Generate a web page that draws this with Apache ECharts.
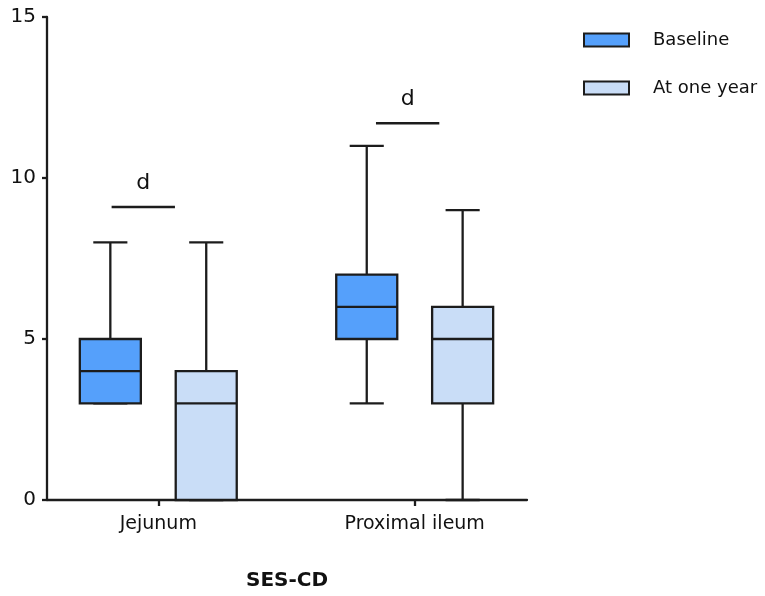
<!DOCTYPE html>
<html>
<head>
<meta charset="utf-8">
<script src="https://cdn.jsdelivr.net/npm/echarts@6/dist/echarts.min.js"></script>
<style>
  html, body { margin: 0; padding: 0; background: #fff; }
  #chart { width: 765px; height: 596px; }
</style>
</head>
<body>
<div id="chart"></div>
<script>
// ---- data ----
const categories = ['Jejunum', 'Proximal ileum'];
const seriesNames = ['Baseline', 'At one year'];
// [min, Q1, median, Q3, max] per category
const baselineStats = [[3, 3, 4, 5, 8], [3, 5, 6, 7, 11]];
const oneYearStats = [[0, 0, 3, 4, 8], [0, 3, 5, 6, 9]];
const yTicks = [0, 5, 10, 15];
// significance annotations (x in category units, y in SES-CD units)
const sigStart = [-0.182, 0.849];
const sigEnd = [0.065, 1.096];
const sigHeight = [9.1, 11.7];
const sigText = ['d', 'd'];

// ---- styles / layout ----
const FONT = 'DejaVu Sans';
const INK = '#1c1c1c';
const LW = 2.3;
const colors = ['#55a0fb', '#c9ddf7'];
const BOX_OFFSET = 0.187;   // fraction of category spacing
const BOX_W = 0.238;
const CAP_W = 0.133;

function rowsFrom(stats) {
  return stats.map((s, i) => [i].concat(s));
}

function boxRenderer(offsetFrac, fill) {
  return function (params, api) {
    const x = api.value(0);
    const unit = api.size([1, 0])[0];
    const cx = api.coord([x, 0])[0] + offsetFrac * unit;
    const half = BOX_W * unit / 2;
    const capHalf = CAP_W * unit / 2;
    const y = v => api.coord([x, v])[1];
    const mn = y(api.value(1)), q1 = y(api.value(2)), md = y(api.value(3)),
          q3 = y(api.value(4)), mx = y(api.value(5));
    const ls = { stroke: INK, lineWidth: LW };
    return {
      type: 'group',
      children: [
        { type: 'line', shape: { x1: cx, y1: q3, x2: cx, y2: mx }, style: ls },
        { type: 'line', shape: { x1: cx, y1: q1, x2: cx, y2: mn }, style: ls },
        { type: 'line', shape: { x1: cx - capHalf, y1: mx, x2: cx + capHalf, y2: mx }, style: ls },
        { type: 'line', shape: { x1: cx - capHalf, y1: mn, x2: cx + capHalf, y2: mn }, style: ls },
        { type: 'rect', shape: { x: cx - half, y: q3, width: 2 * half, height: q1 - q3 },
          style: { fill: fill, stroke: INK, lineWidth: LW } },
        { type: 'line', shape: { x1: cx - half, y1: md, x2: cx + half, y2: md }, style: ls }
      ]
    };
  };
}

function sigRenderer(params, api) {
  const p1 = api.coord([api.value(0), api.value(2)]);
  const p2 = api.coord([api.value(1), api.value(2)]);
  return {
    type: 'group',
    children: [
      { type: 'line', shape: { x1: p1[0], y1: p1[1], x2: p2[0], y2: p2[1] },
        style: { stroke: INK, lineWidth: LW } },
      { type: 'text', x: (p1[0] + p2[0]) / 2, y: p1[1] - 24,
        style: { text: sigText[params.dataIndex], fill: '#111', font: '22px "' + FONT + '"',
                 align: 'center', verticalAlign: 'middle' } }
    ]
  };
}

const chart = echarts.init(document.getElementById('chart'));
chart.setOption({
  animation: false,
  backgroundColor: '#ffffff',
  textStyle: { fontFamily: FONT },
  grid: { left: 47, right: 238, top: 17, bottom: 93, containLabel: false },
  legend: {
    orient: 'vertical',
    left: 583, top: 31, padding: 0,
    itemWidth: 45, itemHeight: 13, itemGap: 30,
    selectedMode: false,
    textStyle: { fontSize: 18, color: '#111', fontFamily: FONT, padding: [0, 0, 0, 19] },
    data: [
      { name: seriesNames[0], icon: 'rect', itemStyle: { color: colors[0], borderColor: INK, borderWidth: 2 } },
      { name: seriesNames[1], icon: 'rect', itemStyle: { color: colors[1], borderColor: INK, borderWidth: 2 } }
    ]
  },
  xAxis: {
    type: 'value',
    min: -0.434, max: 1.438,
    name: 'SES-CD',
    nameLocation: 'middle',
    nameGap: 71,
    nameTextStyle: { fontSize: 20, fontWeight: 'bold', color: '#111', fontFamily: FONT },
    axisLine: { show: true, onZero: false, lineStyle: { color: INK, width: LW } },
    axisTick: { show: true, length: 6, lineStyle: { color: INK, width: LW }, customValues: [0, 1] },
    axisLabel: { fontSize: 19, color: '#111', margin: 15, customValues: [0, 1],
                 formatter: v => categories[Math.round(v)] },
    splitLine: { show: false }
  },
  yAxis: {
    type: 'value',
    min: yTicks[0], max: yTicks[yTicks.length - 1], interval: 5,
    axisLine: { show: true, onZero: false, lineStyle: { color: INK, width: LW } },
    axisTick: { show: true, length: 5, lineStyle: { color: INK, width: LW } },
    axisLabel: { fontSize: 20, color: '#111', margin: 11 },
    splitLine: { show: false }
  },
  series: [
    {
      name: seriesNames[0], type: 'custom', itemStyle: { color: colors[0] },
      renderItem: boxRenderer(-BOX_OFFSET, colors[0]),
      encode: { x: 0, y: [1, 2, 3, 4, 5] },
      data: rowsFrom(baselineStats)
    },
    {
      name: seriesNames[1], type: 'custom', itemStyle: { color: colors[1] },
      renderItem: boxRenderer(BOX_OFFSET, colors[1]),
      encode: { x: 0, y: [1, 2, 3, 4, 5] },
      data: rowsFrom(oneYearStats)
    },
    {
      name: 'sig', type: 'custom', silent: true,
      renderItem: sigRenderer,
      encode: { x: [0, 1], y: 2 },
      data: sigStart.map((s, i) => [s, sigEnd[i], sigHeight[i]])
    }
  ]
});
</script>
</body>
</html>
